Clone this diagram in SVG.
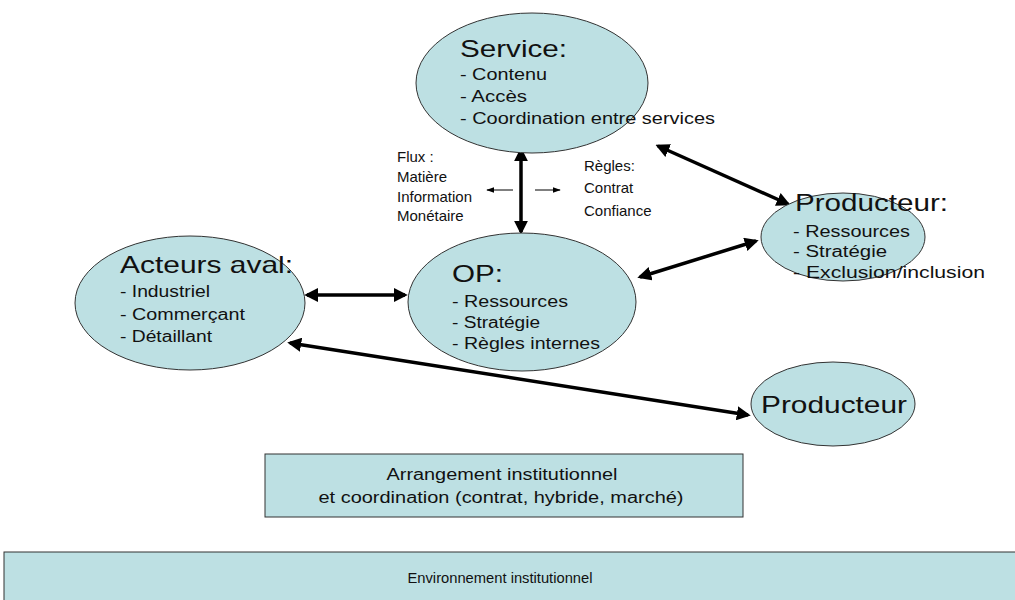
<svg xmlns="http://www.w3.org/2000/svg" width="1015" height="600" viewBox="0 0 1015 600">
<defs>
<style>
.node{fill:#bde0e3;stroke:#333;stroke-width:1}
.t{font-family:"Liberation Sans",Arial,sans-serif;fill:#111}
.h{font-size:24px}
.i{font-size:16px}
.f{font-size:15px}
.c{stroke:#000;stroke-width:3.5;fill:none;marker-start:url(#ah);marker-end:url(#ah)}
.thin{stroke:#000;stroke-width:1;fill:none;marker-end:url(#as)}
</style>
<marker id="ah" viewBox="0 0 10 10" refX="8" refY="5" markerWidth="4" markerHeight="4" orient="auto-start-reverse" markerUnits="strokeWidth">
<path d="M0,0 L10,5 L0,10 z" fill="#000"/>
</marker>
<marker id="as" viewBox="0 0 10 10" refX="9" refY="5" markerWidth="8" markerHeight="8" orient="auto" markerUnits="strokeWidth">
<path d="M0,1.5 L10,5 L0,8.5 z" fill="#000"/>
</marker>
</defs>
<rect width="1015" height="600" fill="#fff"/>
<g id="environnement">
<rect class="node" x="4" y="552" width="1015" height="52"/>
<text class="t" x="500" y="583" font-size="15" text-anchor="middle" textLength="185" lengthAdjust="spacingAndGlyphs">Environnement institutionnel</text>
</g>
<g id="arrangement">
<rect class="node" x="265" y="454" width="478" height="63"/>
<text class="t" x="502" y="480" font-size="16" text-anchor="middle" textLength="231" lengthAdjust="spacingAndGlyphs">Arrangement institutionnel</text>
<text class="t" x="501" y="503" font-size="16" text-anchor="middle" textLength="365" lengthAdjust="spacingAndGlyphs">et coordination (contrat, hybride, marché)</text>
</g>
<g id="connectors">
<line class="c" x1="521" y1="150" x2="521" y2="232"/>
<line class="c" x1="658" y1="146" x2="788" y2="204"/>
<line class="c" x1="756" y1="241" x2="640" y2="277"/>
<line class="c" x1="307" y1="295" x2="405" y2="295"/>
<line class="c" x1="290" y1="343" x2="748" y2="415"/>
<line class="thin" x1="513" y1="190" x2="487" y2="190"/>
<line class="thin" x1="535" y1="190" x2="560" y2="190"/>
</g>
<g id="service">
<ellipse class="node" cx="532" cy="83" rx="116" ry="70"/>
<text class="t h" x="460" y="57" textLength="107" lengthAdjust="spacingAndGlyphs">Service:</text>
<text class="t i" x="460" y="80" textLength="87" lengthAdjust="spacingAndGlyphs">- Contenu</text>
<text class="t i" x="460" y="102" textLength="67" lengthAdjust="spacingAndGlyphs">- Accès</text>
<text class="t i" x="460" y="124" textLength="255" lengthAdjust="spacingAndGlyphs">- Coordination entre services</text>
</g>
<g id="flux">
<text class="t f" x="397" y="162">Flux :</text>
<text class="t f" x="397" y="182">Matière</text>
<text class="t f" x="397" y="202">Information</text>
<text class="t f" x="397" y="221">Monétaire</text>
</g>
<g id="regles">
<text class="t f" x="584" y="171">Règles:</text>
<text class="t f" x="584" y="193">Contrat</text>
<text class="t f" x="584" y="216">Confiance</text>
</g>
<g id="producteur1">
<ellipse class="node" cx="843" cy="237" rx="82" ry="44"/>
<text class="t" x="795" y="211" font-size="23" textLength="153" lengthAdjust="spacingAndGlyphs">Producteur:</text>
<text class="t i" x="793" y="237" textLength="117" lengthAdjust="spacingAndGlyphs">- Ressources</text>
<text class="t i" x="793" y="257" textLength="94" lengthAdjust="spacingAndGlyphs">- Stratégie</text>
<text class="t i" x="793" y="278" textLength="192" lengthAdjust="spacingAndGlyphs">- Exclusion/inclusion</text>
</g>
<g id="acteurs">
<ellipse class="node" cx="190" cy="303" rx="115" ry="67"/>
<text class="t h" x="120" y="273" textLength="173" lengthAdjust="spacingAndGlyphs">Acteurs aval:</text>
<text class="t i" x="120" y="297" textLength="90" lengthAdjust="spacingAndGlyphs">- Industriel</text>
<text class="t i" x="120" y="320" textLength="125" lengthAdjust="spacingAndGlyphs">- Commerçant</text>
<text class="t i" x="120" y="342" textLength="92" lengthAdjust="spacingAndGlyphs">- Détaillant</text>
</g>
<g id="op">
<ellipse class="node" cx="522" cy="302" rx="114" ry="69"/>
<text class="t h" x="452" y="282" textLength="51" lengthAdjust="spacingAndGlyphs">OP:</text>
<text class="t i" x="452" y="307" textLength="116" lengthAdjust="spacingAndGlyphs">- Ressources</text>
<text class="t i" x="452" y="328" textLength="88" lengthAdjust="spacingAndGlyphs">- Stratégie</text>
<text class="t i" x="452" y="349" textLength="148" lengthAdjust="spacingAndGlyphs">- Règles internes</text>
</g>
<g id="producteur2">
<ellipse class="node" cx="833" cy="404" rx="82" ry="42"/>
<text class="t h" x="761" y="413" textLength="146" lengthAdjust="spacingAndGlyphs">Producteur</text>
</g>
</svg>
